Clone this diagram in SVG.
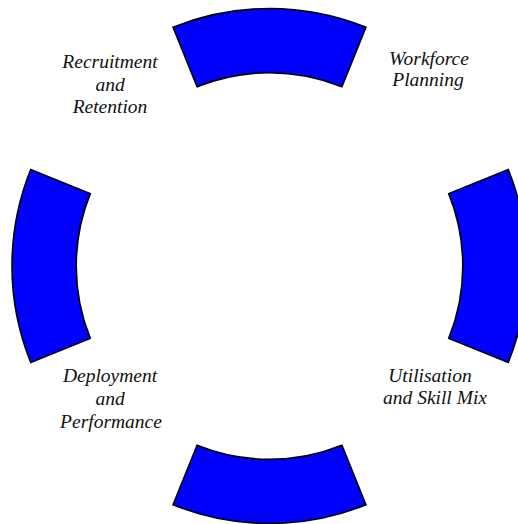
<svg xmlns="http://www.w3.org/2000/svg" width="518" height="524" viewBox="0 0 518 524">
  <style>
    .seg { fill: #0000ff; stroke: #000000; stroke-width: 1.6; stroke-linejoin: miter; }
    .lbl { font-family: "Liberation Serif", "Times New Roman", serif; font-style: italic; font-size: 19.5px; fill: #111111; text-anchor: middle; }
  </style>
  <rect width="518" height="524" fill="#ffffff"/>
  <!-- ring segments: centre (269.5, 266), outer r 257.5, inner r 193.3, each spanning 44 degrees -->
  <g id="segment-top">
    <path class="seg" d="M 173.04 27.25 A 257.5 257.5 0 0 1 365.96 27.25 L 341.91 86.78 A 193.3 193.3 0 0 0 197.09 86.78 Z"/>
  </g>
  <g id="segment-right">
    <path class="seg" d="M 508.25 169.54 A 257.5 257.5 0 0 1 508.25 362.46 L 448.72 338.41 A 193.3 193.3 0 0 0 448.72 193.59 Z"/>
  </g>
  <g id="segment-bottom">
    <path class="seg" d="M 365.96 504.75 A 257.5 257.5 0 0 1 173.04 504.75 L 197.09 445.22 A 193.3 193.3 0 0 0 341.91 445.22 Z"/>
  </g>
  <g id="segment-left">
    <path class="seg" d="M 30.75 362.46 A 257.5 257.5 0 0 1 30.75 169.54 L 90.28 193.59 A 193.3 193.3 0 0 0 90.28 338.41 Z"/>
  </g>
  <g id="connectors"/>
  <!-- labels -->
  <g id="label-recruitment">
    <text class="lbl" x="110" y="67.5">Recruitment</text>
    <text class="lbl" x="110" y="90.5">and</text>
    <text class="lbl" x="110" y="113">Retention</text>
  </g>
  <g id="label-workforce">
    <text class="lbl" x="429" y="64.5">Workforce</text>
    <text class="lbl" x="428" y="86">Planning</text>
  </g>
  <g id="label-deployment">
    <text class="lbl" x="110" y="382">Deployment</text>
    <text class="lbl" x="110" y="404.5">and</text>
    <text class="lbl" x="111" y="427.5">Performance</text>
  </g>
  <g id="label-utilisation">
    <text class="lbl" x="430" y="382">Utilisation</text>
    <text class="lbl" x="435" y="404">and Skill Mix</text>
  </g>
</svg>
